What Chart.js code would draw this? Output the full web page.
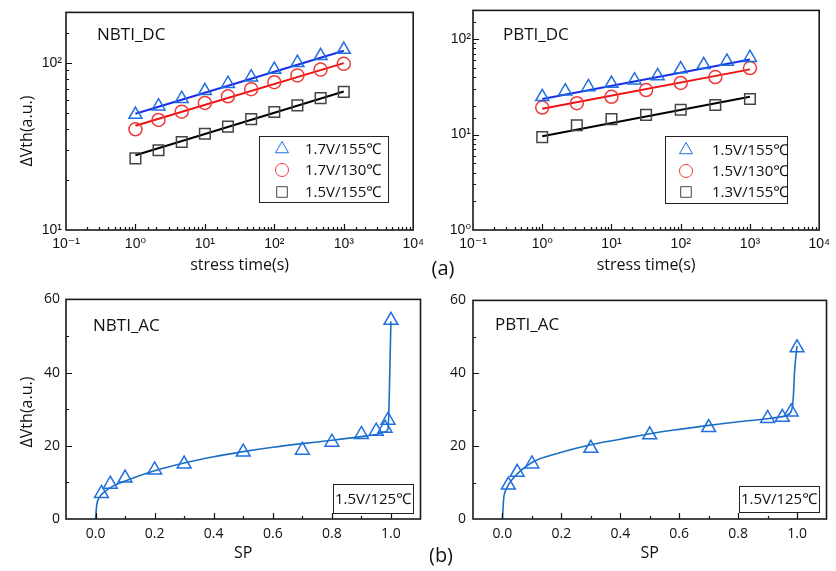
<!DOCTYPE html>
<html>
<head>
<script src="https://cdn.jsdelivr.net/npm/chart.js"></script>
<style>
  body { margin: 0; background: #fff; }
  #wrap { position: relative; width: 836px; height: 571px; }
  canvas { position: absolute; }
</style>
</head>
<body>
<div id="wrap">
  <canvas id="nbtiDc" width="430" height="280" style="left:0;top:0"></canvas>
  <canvas id="pbtiDc" width="406" height="280" style="left:430px;top:0"></canvas>
  <canvas id="nbtiAc" width="430" height="286" style="left:0;top:285px"></canvas>
  <canvas id="pbtiAc" width="406" height="286" style="left:430px;top:285px"></canvas>
</div>
<script>
// stress times (s) of the DC measurements
const dcTime10 = [1, 2.15, 4.64, 10, 21.5, 46.4, 100, 215, 464, 1000];
const dcTime7 = [1, 3.16, 10, 31.6, 100, 316, 1000];
const fitTime = [1, 1000];

// NBTI_DC
const nbtiLabels = ['1.7V/155℃', '1.7V/130℃', '1.5V/155℃'];
const nbti17v155 = [49, 55, 61, 68, 75, 82, 91, 100, 110, 120];
const nbti17v130 = [40, 45.5, 51, 57.5, 63, 69.5, 76.5, 84, 91, 98.5];
const nbti15v155 = [26.8, 30, 33.6, 37.6, 41.5, 46, 50.8, 55.6, 61.4, 67];
const nbti17v155Fit = [49.5, 118];
const nbti17v130Fit = [42, 99.5];
const nbti15v155Fit = [28, 67.3];

// PBTI_DC
const pbtiLabels = ['1.5V/155℃', '1.5V/130℃', '1.3V/155℃'];
const pbti15v155 = [24.9, 28.5, 31.6, 34.2, 37.1, 41.1, 48.5, 53.8, 58.3, 64];
const pbti15v130 = [19.2, 21.3, 24.9, 29.3, 34.7, 40.1, 49.8];
const pbti13v155 = [9.4, 12.5, 14.5, 16.1, 18.2, 20.4, 23.6];
const pbti15v155Fit = [23.6, 61.1];
const pbti15v130Fit = [18.6, 48.2];
const pbti13v155Fit = [9.6, 24.9];

// NBTI_AC  (SP = signal probability)
const acLabel = '1.5V/125℃';
const nbtiSp = [0.02, 0.05, 0.1, 0.2, 0.3, 0.5, 0.7, 0.8, 0.9, 0.95, 0.98, 0.99, 1.0];
const nbtiAcVth = [7, 9.5, 11.2, 13.4, 15, 18.3, 18.8, 21, 23.1, 24, 24.8, 27, 54.3];
const nbtiCurveSp = [0, 0.004, 0.013, 0.03, 0.053, 0.1, 0.2, 0.3, 0.4, 0.5, 0.6, 0.7, 0.8, 0.9, 0.95, 0.98, 0.99, 1.0];
const nbtiCurveVth = [0, 3.8, 5.9, 7.4, 8.7, 10.4, 13.2, 15.3, 17.0, 18.4, 19.6, 20.6, 21.5, 22.5, 23.1, 23.8, 24.6, 54];

// PBTI_AC
const pbtiSp = [0.02, 0.05, 0.1, 0.3, 0.5, 0.7, 0.9, 0.95, 0.98, 1.0];
const pbtiAcVth = [9.3, 12.8, 15.1, 19.4, 23.1, 25.1, 27.6, 27.9, 29.4, 47];
const pbtiCurveSp = [0, 0.004, 0.011, 0.036, 0.1, 0.2, 0.3, 0.4, 0.5, 0.6, 0.7, 0.8, 0.9, 0.95, 0.98, 0.987, 0.992, 1.0];
const pbtiCurveVth = [0, 5.5, 7.9, 11.1, 15.5, 18.3, 20.4, 21.9, 23.4, 24.6, 25.7, 26.7, 27.5, 28.1, 29.5, 33, 41, 47.5];

const textFont = "'Open Sans', 'Noto Sans', sans-serif";
const tickFont = "'Liberation Sans', 'DejaVu Sans', sans-serif";
const ink = '#111';
const triBlue = '#1f6fe0';
const lineBlue = '#1a2ee8';
const red = '#f03a3a';
const grey = '#444';
const curveBlue = '#1b6fc0';

Chart.defaults.font.family = textFont;
Chart.defaults.color = ink;
Chart.defaults.animation = false;
Chart.defaults.plugins.legend.display = false;
Chart.defaults.plugins.tooltip.enabled = false;

const sup = { '-': '⁻', '0': '⁰', '1': '¹', '2': '²', '3': '³', '4': '⁴', '5': '⁵', '6': '⁶', '7': '⁷', '8': '⁸', '9': '⁹' };
function isPow10(v) {
  const e = Math.log10(v);
  return Math.abs(e - Math.round(e)) < 1e-6;
}
function pow10Label(v) {
  if (!isPow10(v)) return '';
  return '10' + String(Math.round(Math.log10(v))).split('').map(c => sup[c]).join('');
}
function pts(xs, ys) {
  return xs.map((x, i) => ({ x: x, y: ys[i] }));
}
function markers(xs, ys, style, color, radius) {
  return {
    data: pts(xs, ys), showLine: false, pointStyle: style, pointRadius: radius,
    pointBorderColor: color, pointBackgroundColor: 'rgba(0,0,0,0)', pointBorderWidth: 1.5
  };
}
function line(xs, ys, color, width, smooth) {
  return {
    data: pts(xs, ys), showLine: true, pointRadius: 0, borderColor: color, borderWidth: width,
    cubicInterpolationMode: smooth ? 'monotone' : 'default'
  };
}

// per-panel decoration: frame, inward ticks, legend, labels
const deco = {
  nbtiDc: {
    log: true,
    legend: { box: [259, 136, 129, 66], markerX: 282, textX: 305, rows: [149, 170, 192], labels: nbtiLabels },
    texts: [
      { text: 'NBTI_DC', x: 97, y: 40, size: 17 },
      { text: 'ΔVth(a.u.)', x: 27, y: 131, size: 16, rotate: true }
    ]
  },
  pbtiDc: {
    log: true,
    legend: { box: [235, 136, 122, 67], markerX: 256, textX: 282, rows: [150, 171, 192], labels: pbtiLabels },
    texts: [
      { text: 'PBTI_DC', x: 73, y: 40, size: 17 },
      { text: '(a)', x: 13, y: 269, size: 20, center: true }
    ]
  },
  nbtiAc: {
    xStep: 0.2, yStep: 20,
    box: { rect: [333, 199, 80, 29], text: acLabel },
    texts: [
      { text: 'NBTI_AC', x: 93, y: 46, size: 17 },
      { text: 'ΔVth(a.u.)', x: 27, y: 127, size: 16, rotate: true }
    ]
  },
  pbtiAc: {
    xStep: 0.2, yStep: 20,
    box: { rect: [309, 201, 80, 26], text: acLabel },
    texts: [
      { text: 'PBTI_AC', x: 65, y: 45, size: 17 },
      { text: '(b)', x: 11, y: 271, size: 20, center: true }
    ]
  }
};

function isMajor(v, step, log) {
  if (log) return isPow10(v);
  const r = v / step;
  return Math.abs(r - Math.round(r)) < 1e-6;
}

const panelDeco = {
  id: 'panelDeco',
  afterDraw(chart) {
    const d = deco[chart.canvas.id];
    const { ctx, chartArea: a, scales } = chart;
    ctx.save();
    ctx.strokeStyle = ink;
    ctx.lineWidth = 1.2;
    ctx.beginPath();
    scales.x.ticks.forEach(t => {
      const px = Math.round(scales.x.getPixelForValue(t.value)) + 0.5;
      if (px < a.left + 2 || px > a.right - 2) return;
      const len = isMajor(t.value, d.xStep, d.log) ? 6 : 3;
      ctx.moveTo(px, a.bottom);
      ctx.lineTo(px, a.bottom - len);
    });
    scales.y.ticks.forEach(t => {
      const py = Math.round(scales.y.getPixelForValue(t.value)) + 0.5;
      if (py < a.top + 2 || py > a.bottom - 2) return;
      const len = isMajor(t.value, d.yStep, d.log) ? 6 : 3;
      ctx.moveTo(a.left, py);
      ctx.lineTo(a.left + len, py);
    });
    ctx.stroke();

    ctx.lineWidth = 1.6;
    ctx.strokeStyle = '#1a1a1a';
    ctx.strokeRect(a.left, a.top, a.right - a.left, a.bottom - a.top);

    ctx.fillStyle = ink;
    ctx.textBaseline = 'alphabetic';
    if (d.legend) {
      const L = d.legend;
      ctx.lineWidth = 1;
      ctx.strokeStyle = '#222';
      ctx.strokeRect(L.box[0] + 0.5, L.box[1] + 0.5, L.box[2], L.box[3]);
      ctx.font = '15px ' + textFont;
      ctx.textBaseline = 'middle';
      L.labels.forEach((lab, i) => {
        const ds = chart.data.datasets[i];
        ctx.strokeStyle = ds.pointBorderColor;
        ctx.fillStyle = 'rgba(0,0,0,0)';
        Chart.helpers.drawPoint(ctx, { pointStyle: ds.pointStyle, radius: ds.pointRadius, borderWidth: 1.5, rotation: 0 }, L.markerX, L.rows[i]);
        ctx.fillStyle = ink;
        ctx.fillText(lab, L.textX, L.rows[i] + 1);
      });
    }
    if (d.box) {
      const r = d.box.rect;
      ctx.lineWidth = 1;
      ctx.strokeStyle = '#222';
      ctx.strokeRect(r[0] + 0.5, r[1] + 0.5, r[2], r[3]);
      ctx.font = '15px ' + textFont;
      ctx.textAlign = 'center';
      ctx.textBaseline = 'middle';
      ctx.fillStyle = ink;
      ctx.fillText(d.box.text, r[0] + r[2] / 2, r[1] + r[3] / 2 + 1);
      ctx.textAlign = 'left';
    }
    d.texts.forEach(t => {
      ctx.save();
      ctx.font = t.size + 'px ' + textFont;
      ctx.fillStyle = ink;
      if (t.rotate) {
        ctx.translate(t.x, t.y);
        ctx.rotate(-Math.PI / 2);
        ctx.textAlign = 'center';
        ctx.textBaseline = 'middle';
        ctx.fillText(t.text, 0, 0);
      } else if (t.center) {
        ctx.textAlign = 'center';
        ctx.textBaseline = 'middle';
        ctx.fillText(t.text, t.x, t.y);
      } else {
        ctx.textAlign = 'left';
        ctx.textBaseline = 'alphabetic';
        ctx.fillText(t.text, t.x, t.y);
      }
      ctx.restore();
    });
    ctx.restore();
  }
};

const noGrid = { display: false, drawTicks: false };

function logScales(yMin, yWidth, yPad) {
  return {
    x: {
      type: 'logarithmic', min: 0.1, max: 10000,
      grid: noGrid, border: { display: false },
      ticks: { autoSkip: false, maxRotation: 0, padding: 6, color: ink, font: { family: tickFont, size: 14 }, callback: v => pow10Label(v) },
      title: { display: true, text: 'stress time(s)', color: ink, font: { family: textFont, size: 16 }, padding: { top: 0, bottom: 5 } },
      afterFit: s => { s.height = 50; }
    },
    y: {
      type: 'logarithmic', min: yMin, max: 200,
      grid: noGrid, border: { display: false },
      ticks: { autoSkip: false, padding: yPad, color: ink, font: { family: tickFont, size: 14 }, callback: v => pow10Label(v) },
      afterFit: s => { s.width = yWidth; }
    }
  };
}

function linScales(yWidth, yPad) {
  return {
    x: {
      type: 'linear', min: -0.1, max: 1.1,
      grid: noGrid, border: { display: false },
      ticks: { stepSize: 0.1, autoSkip: false, maxRotation: 0, padding: 7, color: ink, font: { family: textFont, size: 14 },
        callback: v => (Math.round(v * 10) % 2 === 0 ? v.toFixed(1) : '') },
      title: { display: true, text: 'SP', color: ink, font: { family: textFont, size: 16 }, padding: { top: 0, bottom: 8 } },
      afterFit: s => { s.height = 52; }
    },
    y: {
      type: 'linear', min: 0, max: 60,
      grid: noGrid, border: { display: false },
      ticks: { stepSize: 10, autoSkip: false, padding: yPad, color: ink, font: { family: textFont, size: 14 },
        callback: v => (v % 20 === 0 ? String(v) : '') },
      afterFit: s => { s.width = yWidth; }
    }
  };
}

new Chart(document.getElementById('nbtiDc'), {
  type: 'scatter',
  data: { datasets: [
    markers(dcTime10, nbti17v155, 'triangle', triBlue, 7.5),
    markers(dcTime10, nbti17v130, 'circle', red, 6.5),
    markers(dcTime10, nbti15v155, 'rect', grey, 7.5),
    line(fitTime, nbti17v155Fit, lineBlue, 2),
    line(fitTime, nbti17v130Fit, '#ee1111', 2),
    line(fitTime, nbti15v155Fit, '#000', 2)
  ] },
  options: { responsive: false, layout: { padding: { top: 8, right: 9, left: 0, bottom: 0 } }, scales: logScales(10, 66, 4) },
  plugins: [panelDeco]
});

new Chart(document.getElementById('pbtiDc'), {
  type: 'scatter',
  data: { datasets: [
    markers(dcTime10, pbti15v155, 'triangle', triBlue, 7.5),
    markers(dcTime7, pbti15v130, 'circle', red, 6.5),
    markers(dcTime7, pbti13v155, 'rect', grey, 7.5),
    line(fitTime, pbti15v155Fit, lineBlue, 2),
    line(fitTime, pbti15v130Fit, '#ee1111', 2),
    line(fitTime, pbti13v155Fit, '#000', 2)
  ] },
  options: { responsive: false, layout: { padding: { top: 8, right: 7, left: 0, bottom: 0 } }, scales: logScales(1, 43, 2) },
  plugins: [panelDeco]
});

new Chart(document.getElementById('nbtiAc'), {
  type: 'scatter',
  data: { datasets: [
    markers(nbtiSp, nbtiAcVth, 'triangle', triBlue, 8),
    line(nbtiCurveSp, nbtiCurveVth, curveBlue, 1.6, true)
  ] },
  options: { responsive: false, layout: { padding: { top: 12, right: 7.3, left: 0, bottom: 0 } }, scales: linScales(66, 6) },
  plugins: [panelDeco]
});

new Chart(document.getElementById('pbtiAc'), {
  type: 'scatter',
  data: { datasets: [
    markers(pbtiSp, pbtiAcVth, 'triangle', triBlue, 8),
    line(pbtiCurveSp, pbtiCurveVth, curveBlue, 1.6, true)
  ] },
  options: { responsive: false, layout: { padding: { top: 12, right: 7, left: 0, bottom: 0 } }, scales: linScales(43, 7) },
  plugins: [panelDeco]
});
</script>
</body>
</html>
